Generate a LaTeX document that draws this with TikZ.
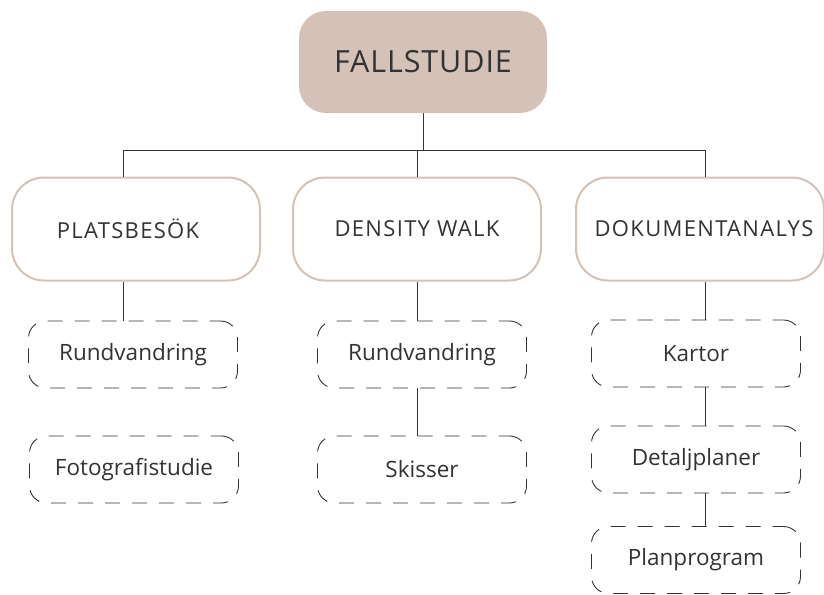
\documentclass[tikz,border=0pt]{standalone}
\usepackage{fontspec}
\setmainfont{Open Sans}
\newfontfamily\wideface[LetterSpace=6]{Open Sans}
\newfontfamily\headface[LetterSpace=3]{Open Sans}
\usetikzlibrary{positioning}
\definecolor{sand}{HTML}{D4C1B7}
\definecolor{ink}{HTML}{333333}

\begin{document}
\begin{tikzpicture}[x=1pt,y=-1pt]
		\tikzstyle{Case} = [rectangle, rounded corners=27pt, minimum width=248pt, minimum height=102pt, text centered, draw=none, fill=sand, text=ink, font=\headface\fontsize{30.5}{36}\selectfont]
		\tikzstyle{Method} = [rectangle, rounded corners=32pt, minimum width=248pt, minimum height=103pt, text centered, draw=sand, line width=2pt, fill=white, text=ink, font=\wideface\fontsize{22}{26}\selectfont]
		\tikzstyle{Source} = [rectangle, rounded corners=17pt, minimum width=209pt, minimum height=67pt, text centered, draw=ink, line width=0.9pt, dash pattern=on 15pt off 12pt, dash phase=4pt, text=ink, font=\fontsize{22.5}{26}\selectfont]
		\tikzstyle{line} = [ink, line width=1pt]
		
		\useasboundingbox (0,0) rectangle (824,594);
		
		\node (fallNode) [Case] at (423,62) {FALLSTUDIE};
		\node (platsNode) [Method] at (136,229) {\hspace*{-16pt}PLATSBESÖK};
		\node (densityNode) [Method] at (417,229) {DENSITY WALK};
		\node (dokNode) [Method] at (700,229) {\hspace*{8pt}DOKUMENTANALYS};
		\node (rund1Node) [Source] at (133,354.5) {Rundvandring};
		\node (fotoNode) [Source] at (134,469.5) {Fotografistudie};
		\node (rund2Node) [Source] at (422,354.5) {Rundvandring};
		\node (skissNode) [Source] at (422,469.5) {Skisser};
		\node (kartorNode) [Source] at (696,353.5) {Kartor};
		\node (detaljNode) [Source] at (696,459.5) {Detaljplaner};
		\node (planNode) [Source] at (696,560) {Planprogram};
		
		\coordinate (splitL) at (123,150);
		\coordinate (splitM) at (417,150);
		\coordinate (splitR) at (705,150);
		
		\draw [line] (fallNode.south) -- (fallNode.south |- splitL);
		\draw [line] (splitL) -- (splitR);
		\draw [line] (splitL) -- (splitL |- platsNode.north);
		\draw [line] (splitM) -- (splitM |- densityNode.north);
		\draw [line] (splitR) -- (splitR |- dokNode.north);
		\draw [line] (splitL |- platsNode.south) -- (splitL |- rund1Node.north);
		\draw [line] (splitM |- densityNode.south) -- (splitM |- rund2Node.north);
		\draw [line] (splitM |- rund2Node.south) -- (splitM |- skissNode.north);
		\draw [line] (splitR |- dokNode.south) -- (splitR |- kartorNode.north);
		\draw [line] (splitR |- kartorNode.south) -- (splitR |- detaljNode.north);
		\draw [line] (splitR |- detaljNode.south) -- (splitR |- planNode.north);
\end{tikzpicture}
\end{document}
